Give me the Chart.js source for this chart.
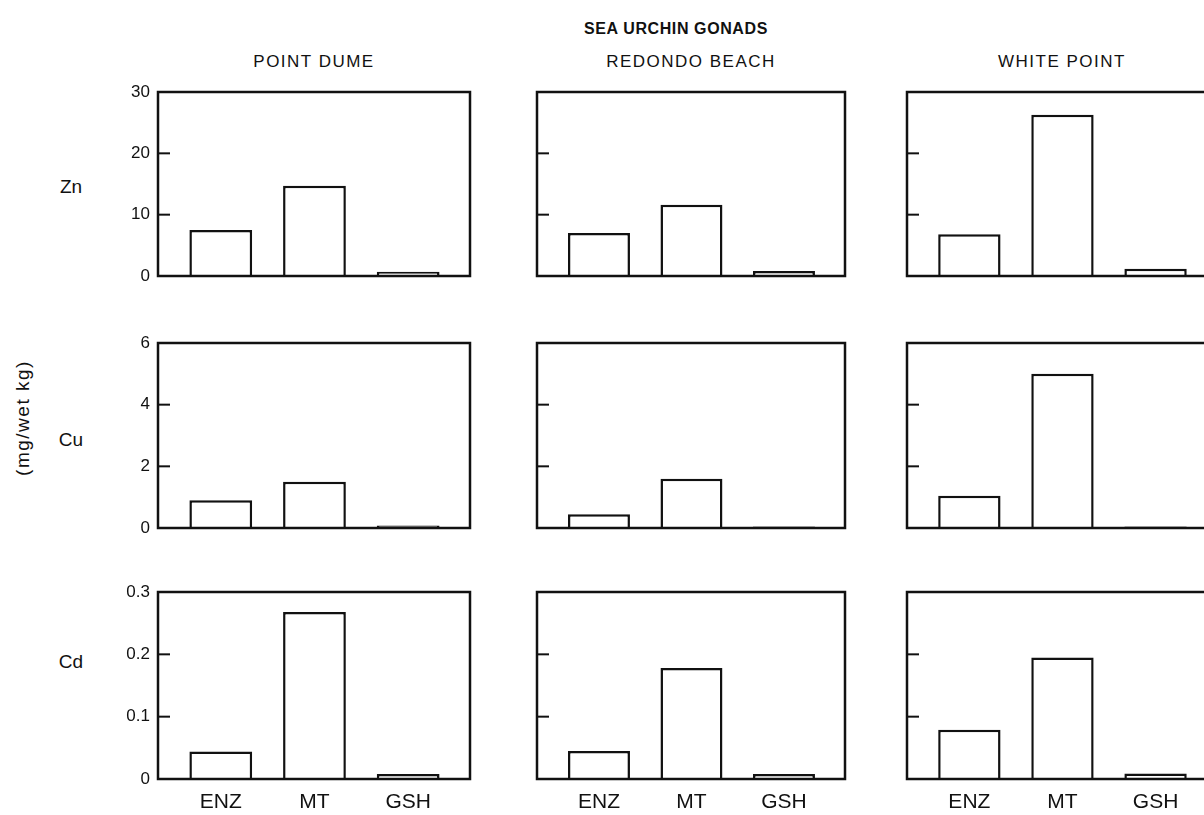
<!DOCTYPE html>
<html>
<head>
<meta charset="utf-8">
<script src="https://cdn.jsdelivr.net/npm/chart.js@4.4.1/dist/chart.umd.min.js"></script>
<style>
    body { margin: 0; width: 1204px; height: 815px; overflow: hidden; position: relative; background: #fff;
           font-family: "Liberation Sans", Arial, sans-serif; color: #111; }
    .txt { position: absolute; white-space: nowrap; transform: translate(-50%, -50%); }
    .panel { position: absolute; }
</style>
</head>
<body>
<div class="txt" style="left:676px; top:29px; font-size:16px; font-weight:bold; letter-spacing:0.6px;">SEA URCHIN GONADS</div>
<div id="labels"></div>
<div id="panels"></div>

<script>
// дані
const categories = ['ENZ', 'MT', 'GSH'];
const sites = ['POINT DUME', 'REDONDO BEACH', 'WHITE POINT'];
const metals = ['Zn', 'Cu', 'Cd'];

// значення по станціях: [Point Dume, Redondo Beach, White Point]
const znValues = [[7.5, 14.7, 0.7], [7.0, 11.6, 0.8], [6.8, 26.3, 1.2]];
const cuValues = [[0.9, 1.5, 0.08], [0.45, 1.6, 0.05], [1.05, 5.0, 0.05]];
const cdValues = [[0.044, 0.268, 0.008], [0.045, 0.178, 0.008], [0.079, 0.195, 0.009]];

const yMax = [30, 6, 0.3];
const yStep = [10, 2, 0.1];

const allValues = [znValues, cuValues, cdValues];

// розміщення рамок (px)
const colLeft = [158, 537, 907];
const colWidth = [312, 308, 310];
const rowTop = [92, 343, 592];
const rowHeight = [184, 185, 187];
const axisW = 60, axisH = 40, padTop = 24, padRight = 4;

// підписи
const labelsDiv = document.getElementById('labels');
sites.forEach((s, c) => {
    labelsDiv.insertAdjacentHTML('beforeend',
        `<div class="txt" style="left:${colLeft[c] + colWidth[c] / 2}px; top:62px; font-size:17px; letter-spacing:1.5px;">${s}</div>`);
});
const rowLabelY = [187, 440, 662];
metals.forEach((m, r) => {
    labelsDiv.insertAdjacentHTML('beforeend',
        `<div class="txt" style="left:71px; top:${rowLabelY[r]}px; font-size:19px;">${m}</div>`);
});
labelsDiv.insertAdjacentHTML('beforeend',
    `<div class="txt" style="left:23px; top:418px; font-size:19px; letter-spacing:1.5px; transform:translate(-50%,-50%) rotate(-90deg);">(mg/wet kg)</div>`);

// рамка та внутрішні позначки
const framePlugin = {
    id: 'frame',
    afterDatasetsDraw(chart) {
        const {ctx, chartArea: a, scales: {y}} = chart;
        ctx.save();
        ctx.strokeStyle = '#111';
        ctx.lineWidth = 2.5;
        ctx.strokeRect(a.left, a.top, a.right - a.left, a.bottom - a.top);
        ctx.lineWidth = 2;
        y.ticks.forEach(t => {
            if (t.value <= y.min || t.value >= y.max - 1e-9) return;
            const py = y.getPixelForValue(t.value);
            ctx.beginPath();
            ctx.moveTo(a.left, py);
            ctx.lineTo(a.left + 12, py);
            ctx.stroke();
        });
        ctx.restore();
    }
};

const panelsDiv = document.getElementById('panels');

for (let r = 0; r < 3; r++) {
    for (let c = 0; c < 3; c++) {
        const w = axisW + colWidth[c] + padRight;
        const h = padTop + rowHeight[r] + axisH;
        const div = document.createElement('div');
        div.className = 'panel';
        div.style.left = (colLeft[c] - axisW) + 'px';
        div.style.top = (rowTop[r] - padTop) + 'px';
        div.style.width = w + 'px';
        div.style.height = h + 'px';
        const canvas = document.createElement('canvas');
        canvas.width = w;
        canvas.height = h;
        div.appendChild(canvas);
        panelsDiv.appendChild(div);

        const vals = allValues[r][c];
        new Chart(canvas.getContext('2d'), {
            type: 'bar',
            data: {
                datasets: [{
                    data: categories.map((cat, i) => ({x: i + 1, y: vals[i]})),
                    backgroundColor: '#fff',
                    borderColor: '#111',
                    borderWidth: 2.5,
                    barPercentage: 0.67,
                    categoryPercentage: 1
                }]
            },
            options: {
                responsive: false,
                animation: false,
                layout: {padding: {top: padTop, right: padRight, left: 0, bottom: 0}},
                plugins: {legend: {display: false}, tooltip: {enabled: false}},
                scales: {
                    x: {
                        type: 'linear',
                        min: 0.33,
                        max: 3.66,
                        offset: false,
                        grid: {display: false, drawTicks: false},
                        border: {display: false},
                        afterBuildTicks: s => { s.ticks = categories.map((cat, i) => ({value: i + 1})); },
                        afterFit: s => { s.height = axisH; },
                        ticks: {
                            display: r === 2,
                            padding: 11,
                            color: '#111',
                            font: {family: 'Liberation Sans', size: 21},
                            callback: v => categories[Math.round(v) - 1]
                        }
                    },
                    y: {
                        min: 0,
                        max: yMax[r],
                        grid: {display: false, drawTicks: false},
                        border: {display: false},
                        afterFit: s => { s.width = axisW; },
                        ticks: {
                            display: c === 0,
                            stepSize: yStep[r],
                            padding: 8,
                            color: '#111',
                            font: {family: 'Liberation Sans', size: 17},
                            callback: v => String(+v.toFixed(2))
                        }
                    }
                }
            },
            plugins: [framePlugin]
        });
    }
}
</script>
</body>
</html>
